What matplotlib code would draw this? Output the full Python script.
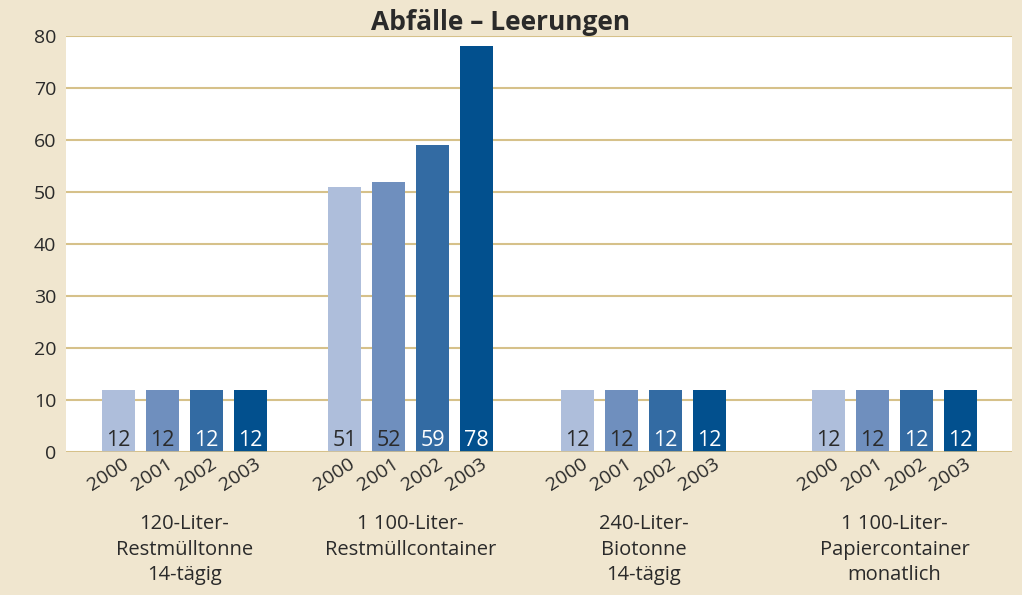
import matplotlib.pyplot as plt
import numpy as np
from matplotlib.transforms import ScaledTranslation

# data
groups = ['120-Liter-\nRestmülltonne\n14-tägig',
          '1 100-Liter-\nRestmüllcontainer',
          '240-Liter-\nBiotonne\n14-tägig',
          '1 100-Liter-\nPapiercontainer\nmonatlich']
years = ['2000', '2001', '2002', '2003']
v2000 = [12, 51, 12, 12]
v2001 = [12, 52, 12, 12]
v2002 = [12, 59, 12, 12]
v2003 = [12, 78, 12, 12]
yticks = [0, 10, 20, 30, 40, 50, 60, 70, 80]

# layout / style
centers = np.array([184.5, 410.5, 643.5, 894.5])
step = 44
bar_w = 33
colors = ['#aebedb', '#6f8fbe', '#336ba3', '#02508e']
label_colors = ['#2a2a2a', '#2a2a2a', 'white', 'white']
bg = '#f0e6cf'
grid_c = '#d6c18a'
txt = '#2a2a2a'

plt.rcParams['font.family'] = ['Open Sans', 'DejaVu Sans']

fig = plt.figure(figsize=(10.22, 5.95), dpi=100, facecolor=bg)
ax = fig.add_axes([66/1022, 1-452/595, (1012-66)/1022, (452-36)/595])
ax.set_facecolor('white')

series = [v2000, v2001, v2002, v2003]
for i, vals in enumerate(series):
    xs = centers + (i - 1.5) * step
    ax.bar(xs, vals, width=bar_w, color=colors[i], zorder=3)
    for x, v in zip(xs, vals):
        ax.annotate(str(v), (x, 0), xytext=(0, 1), textcoords='offset points',
                    ha='center', va='bottom', fontsize=15.5,
                    color=label_colors[i], zorder=4)

ax.set_xlim(66, 1012)
ax.set_ylim(0, 80)
ax.set_yticks(yticks)
ax.yaxis.grid(True, color=grid_c, linewidth=1.5, zorder=1)
ax.tick_params(axis='y', length=0, labelsize=14, labelcolor=txt, pad=7)
for s in ax.spines.values():
    s.set_visible(False)
ax.axhline(0, color=grid_c, linewidth=1.8, zorder=5)

# year tick labels
xt = np.concatenate([centers + (i - 1.5) * step for i in range(4)])
ax.set_xticks(np.sort(xt))
ax.set_xticklabels(years * 4, rotation=33, ha='right', va='top',
                   rotation_mode='anchor', fontsize=14, color=txt)
ax.tick_params(axis='x', length=0, pad=2)
for lab in ax.get_xticklabels():
    lab.set_transform(lab.get_transform() + ScaledTranslation(4/100, 0, fig.dpi_scale_trans))

# group labels
for c, g in zip(centers, groups):
    ax.text(c, -12.0, g, ha='center', va='top', fontsize=14.5,
            color=txt, linespacing=1.36, transform=ax.transData, clip_on=False)

fig.text(501/1022, 1-23/595, 'Abfälle – Leerungen', ha='center', va='center',
         fontsize=19, fontweight='bold', color=txt)

fig.savefig('out.png', dpi=100, facecolor=bg)
